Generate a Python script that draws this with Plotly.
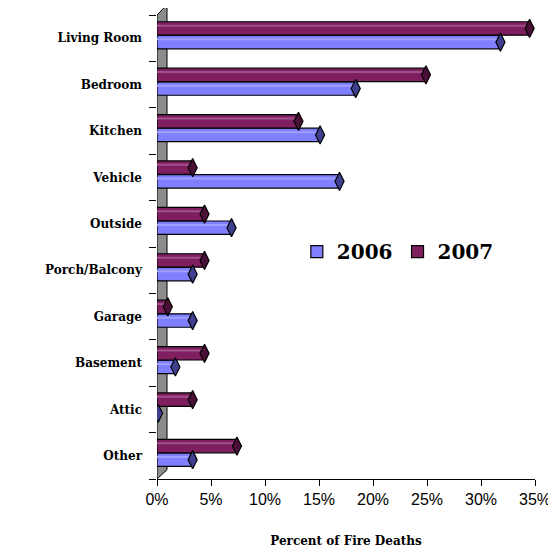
import plotly.graph_objects as go

categories = ["Living Room", "Bedroom", "Kitchen", "Vehicle", "Outside",
              "Porch/Balcony", "Garage", "Basement", "Attic", "Other"]
values_2006 = [31.8, 18.4, 15.1, 16.9, 6.9, 3.3, 3.3, 1.7, 0.1, 3.3]
values_2007 = [34.5, 24.9, 13.1, 3.3, 4.4, 4.4, 1.0, 4.4, 3.3, 7.4]
x_ticks = [0, 5, 10, 15, 20, 25, 30, 35]

C2006 = "#7f7fff"
C2006_DARK = "#3f3f8f"
C2006_LIGHT = "#9f9fff"
C2007 = "#7f1f5f"
C2007_DARK = "#4a1037"
C2007_LIGHT = "#a0508a"

idx = list(range(len(categories)))
off_2007 = -0.21
off_2006 = 0.085
bw = 0.29

fig = go.Figure()
for name, vals, off, col, dark, light in [
        ("2006", values_2006, off_2006, C2006, C2006_DARK, C2006_LIGHT),
        ("2007", values_2007, off_2007, C2007, C2007_DARK, C2007_LIGHT)]:
    ys = [i + off for i in idx]
    fig.add_trace(go.Bar(
        name=name, x=vals, y=ys, orientation="h", width=bw,
        marker=dict(color=col, line=dict(color="black", width=1.2)),
    ))
    # highlight stripe along the top of each cylinder
    hx, hy = [], []
    for v, yy in zip(vals, ys):
        hx += [0, v, None]
        hy += [yy - 0.06, yy - 0.06, None]
    fig.add_trace(go.Scatter(
        x=hx, y=hy, mode="lines", showlegend=False, hoverinfo="skip",
        line=dict(color=light, width=2),
    ))
    fig.add_trace(go.Scatter(
        x=vals, y=ys, mode="markers", showlegend=False, hoverinfo="skip",
        marker=dict(symbol="diamond-tall", size=13, color=dark,
                    line=dict(color="black", width=1.2)),
    ))

# gray back wall
fig.add_shape(type="path", xref="x", yref="paper", xsizemode="pixel", xanchor=0,
              path="M0,0 L0,1 L10,1.022 L10,0.02 Z",
              fillcolor="#8c8c8c", line=dict(color="black", width=1), layer="below")

fig.update_layout(
    width=548, height=542,
    margin=dict(l=149, r=21, t=7, b=71),
    plot_bgcolor="white", paper_bgcolor="white",
    barmode="overlay",
    showlegend=True,
    legend=dict(orientation="h", x=0.37, y=0.49, xanchor="left", yanchor="middle",
                font=dict(family="DejaVu Serif", size=20, color="black", weight="bold"),
                bgcolor="rgba(0,0,0,0)"),
    xaxis=dict(range=[0, 35], tickvals=x_ticks, ticktext=[f"{v}%" for v in x_ticks],
               automargin=False,
               showgrid=False, zeroline=False, showline=True, linecolor="black",
               ticks="outside", ticklen=6, tickcolor="black",
               tickfont=dict(family="Liberation Sans", size=16, color="black"),
               title=dict(text="Percent of Fire Deaths", standoff=29,
                          font=dict(family="DejaVu Serif", size=12, color="black", weight="bold"))),
    yaxis=dict(range=[9.5, -0.5], tickvals=idx, ticktext=categories,
               automargin=False,
               showgrid=False, zeroline=False, showline=False,
               ticks="", ticklabelstandoff=14,
               tickfont=dict(family="DejaVu Serif", size=12, color="black", weight="bold"),
               minor=dict(tickvals=[i - 0.5 for i in range(len(categories) + 1)],
                          ticks="outside", ticklen=7, tickcolor="black", showgrid=False)),
)

fig.write_html("out.html")
